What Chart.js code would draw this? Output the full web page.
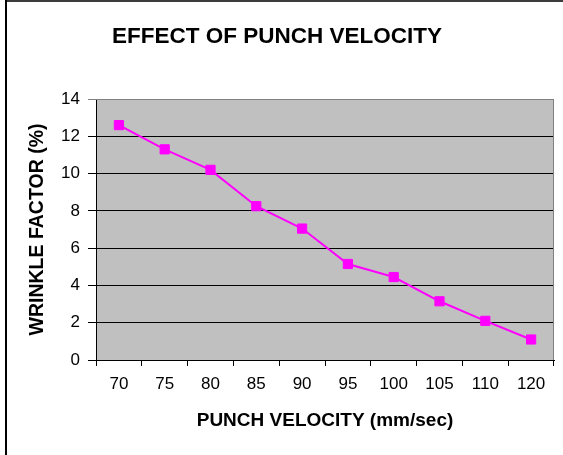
<!DOCTYPE html>
<html>
<head>
<meta charset="utf-8">
<script src="https://cdn.jsdelivr.net/npm/chart.js@4"></script>
<style>
  html, body { margin: 0; padding: 0; background: #fff; overflow: hidden; }
  #wrap { width: 563px; height: 455px; }
</style>
</head>
<body>
<div id="wrap"><canvas id="myChart" width="563" height="455"></canvas></div>
<script>
// Data
var velocities = ['70', '75', '80', '85', '90', '95', '100', '105', '110', '120'];
var wrinkleFactor = [12.6, 11.3, 10.2, 8.25, 7.05, 5.15, 4.45, 3.15, 2.1, 1.1];
var yTicks = [0, 2, 4, 6, 8, 10, 12, 14];

var FONT = 'Arial, "Liberation Sans", sans-serif';

// outer frame (left + top edges only, the rest is cut off)
var framePlugin = {
  id: 'frame',
  beforeDraw: function (chart) {
    var c = chart.ctx;
    c.save();
    c.fillStyle = '#fff';
    c.fillRect(0, 0, chart.width, chart.height);
    c.fillStyle = '#3c3c3c';
    c.fillRect(5, 0, chart.width, 2);
    c.fillStyle = '#000';
    c.fillRect(5, 0, 2, chart.height);
    c.restore();
  }
};

// grey plot background + grey top/right border
var plotAreaPlugin = {
  id: 'plotArea',
  beforeDatasetsDraw: function (chart) {
    var a = chart.chartArea, c = chart.ctx;
    c.save();
    c.strokeStyle = '#808080';
    c.lineWidth = 1;
    c.beginPath();
    c.moveTo(a.left, a.top + 0.5);
    c.lineTo(a.right - 0.5, a.top + 0.5);
    c.lineTo(a.right - 0.5, a.bottom);
    c.stroke();
    c.restore();
  },
  beforeDraw: function (chart) {
    var a = chart.chartArea, c = chart.ctx;
    c.save();
    c.fillStyle = '#c0c0c0';
    c.fillRect(a.left, a.top, a.right - a.left, a.bottom - a.top);
    c.restore();
  }
};

var ctx = document.getElementById('myChart').getContext('2d');
var myChart = new Chart(ctx, {
  type: 'line',
  data: {
    labels: velocities,
    datasets: [{
      label: 'Wrinkle factor',
      data: wrinkleFactor,
      borderColor: '#ff00ff',
      backgroundColor: '#ff00ff',
      borderWidth: 2,
      pointStyle: 'rect',
      pointRadius: 6.5,
      pointBorderWidth: 1,
      pointBorderColor: '#ff00ff',
      pointBackgroundColor: '#ff00ff',
      tension: 0
    }]
  },
  options: {
    responsive: false,
    animation: false,
    layout: { padding: { left: 0, right: 9, top: 0, bottom: 0 } },
    plugins: {
      legend: { display: false },
      tooltip: { enabled: false },
      title: {
        display: true,
        text: 'EFFECT OF PUNCH VELOCITY',
        color: '#000',
        font: { family: FONT, size: 22.5, weight: 'bold', lineHeight: 1.2 },
        padding: { top: 23, bottom: 49 }
      }
    },
    scales: {
      x: {
        type: 'category',
        offset: true,
        grid: {
          offset: true,
          drawOnChartArea: false,
          drawTicks: true,
          tickLength: 6,
          color: '#000'
        },
        border: { display: true, color: '#000', width: 1 },
        ticks: {
          color: '#000',
          font: { family: FONT, size: 17 },
          padding: 8,
          maxRotation: 0,
          autoSkip: false
        },
        title: {
          display: true,
          text: 'PUNCH VELOCITY (mm/sec)',
          color: '#000',
          font: { family: FONT, size: 19, weight: 'bold', lineHeight: 1.2 },
          padding: { top: 0, bottom: 23 }
        },
        afterFit: function (scale) { scale.height = 95; }
      },
      y: {
        min: 0,
        max: 14,
        afterBuildTicks: function (scale) {
          scale.ticks = yTicks.map(function (v) { return { value: v }; });
        },
        grid: {
          color: function (c) { return c.tick && c.tick.value === 14 ? '#808080' : '#000'; },
          lineWidth: 1,
          drawTicks: true,
          tickLength: 8
        },
        border: { display: true, color: '#000', width: 1 },
        ticks: {
          color: '#000',
          font: { family: FONT, size: 17 },
          padding: 8
        },
        title: {
          display: true,
          text: 'WRINKLE FACTOR (%)',
          color: '#000',
          font: { family: FONT, size: 19.5, weight: 'bold', lineHeight: 1.2 },
          padding: { top: 26, bottom: 0 }
        },
        afterFit: function (scale) { scale.width = 96; }
      }
    }
  },
  plugins: [framePlugin, plotAreaPlugin]
});
</script>
</body>
</html>
